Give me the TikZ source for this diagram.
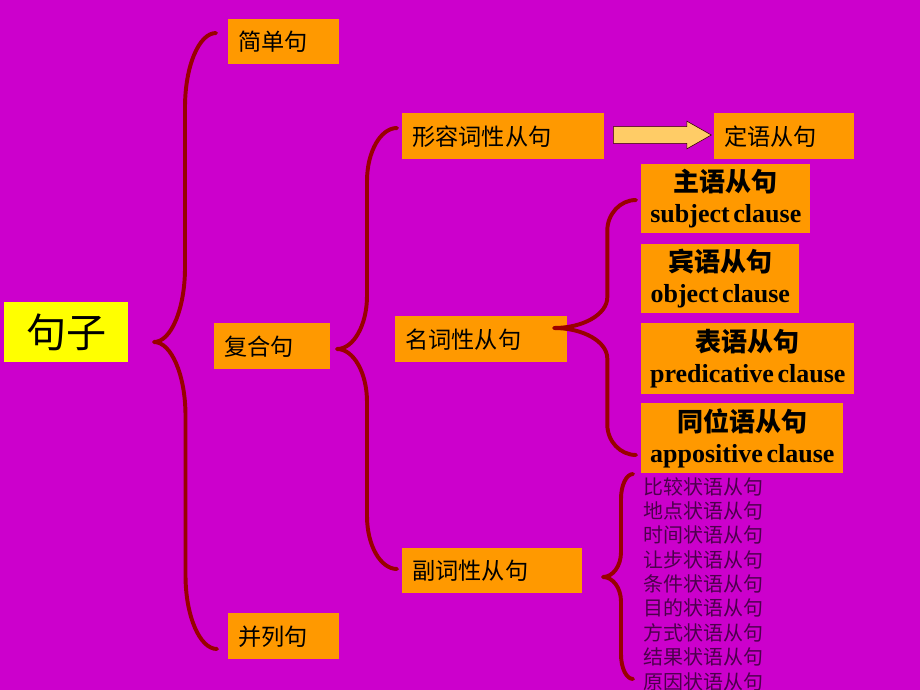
\documentclass[tikz,border=0pt]{standalone}
\usepackage{fontspec}
\setmainfont{Liberation Serif}
\newfontfamily\cjk{Noto Sans CJK SC}
\usepackage{tikz}
\usepackage{xcolor}
\usetikzlibrary{shapes, shapes.arrows, calc, positioning}
\definecolor{slidemagenta}{rgb}{0.8, 0, 0.8}
\definecolor{boxorange}{rgb}{1, 0.6, 0}
\definecolor{rootyellow}{rgb}{1, 1, 0}
\definecolor{bracered}{rgb}{0.6, 0, 0}
\definecolor{arrowfill}{rgb}{1, 0.8, 0.4}
\definecolor{listpurple}{rgb}{0.3, 0, 0.3}
\newcommand{\wsp}{\hskip0.14em\relax}
\tikzset{
    sbox/.style={fill=boxorange, anchor=north west, inner xsep=0.25cm, inner ysep=0pt, align=left,
        font=\cjk\fontsize{16.5}{20}\selectfont},
    bbox/.style={fill=boxorange, anchor=north west, inner xsep=0.1cm, inner ysep=0pt, align=center,
        font=\bfseries\fontsize{18.5}{22}\selectfont},
    brace line/.style={draw=bracered, line width=2.8pt, line cap=round, line join=round},
    half brace/.style={to path={let \p1=(\tikztostart), \p2=(\tikztotarget),
        \n1={\x1+#1*(\x2-\x1)}, \n2={0.24*(\y2-\y1)} in
        .. controls ({\x1+0.55*(\n1-\x1)},{\y1}) and ({\n1},{\y1+0.45*(\n2)}) .. ({\n1},{\y1+(\n2)})
        -- ({\n1},{\y2-(\n2)})
        .. controls ({\n1},{\y2-0.45*(\n2)}) and ({\x2+0.55*(\n1-\x2)},{\y2}) .. (\tikztotarget)}},
    half brace/.default=0.5,
    advtext/.style={anchor=west, inner sep=0pt, text=listpurple, font=\cjk\fontsize{14.2}{17}\selectfont}
}

\begin{document}
\begin{tikzpicture}[x=0.025cm, y=-0.025cm]
        \fill[slidemagenta] (0,0) rectangle (920,690);
        \clip (0,0) rectangle (920,690);

        % left part
        \node[fill=rootyellow, anchor=north west, minimum width=3.1cm, minimum height=1.5cm, inner sep=0pt,
            font=\cjk\fontsize{28.5}{34}\selectfont] (root) at (4,302) {句子};
        \node[sbox, text width=2.275cm, minimum height=1.125cm] (simple) at (228,19) {简单句};
        \node[sbox, text width=2.4cm, minimum height=1.15cm] (compound) at (214,323) {复合句};
        \node[sbox, text width=2.275cm, minimum height=1.15cm] (parallel) at (228,613) {并列句};

        \coordinate (top1) at (216,33);
        \coordinate (tip1) at (154,342);
        \coordinate (bot1) at (217,649);
        \draw[brace line] (top1) to[half brace] (tip1) to[half brace] (bot1);

        % clauses
        \node[sbox, text width=4.55cm, minimum height=1.15cm] (adj) at (402,113) {形容词性从句};
        \node[sbox, text width=3.8cm, minimum height=1.15cm] (noun) at (395,316) {名词性从句};
        \node[sbox, text width=4cm, minimum height=1.125cm] (adv) at (402,548) {副词性从句};

        \coordinate (top2) at (397,128);
        \coordinate (tip2) at (337,349);
        \coordinate (bot2) at (397,569);
        \draw[brace line] (top2) to[half brace] (tip2) to[half brace] (bot2);

        % attributive
        \node[sbox, text width=3cm, minimum height=1.15cm] (attr) at (714,113) {定语从句};
        \node[single arrow, draw=black!80!red, fill=arrowfill, thin, anchor=tail, inner xsep=0pt, inner ysep=0.2cm,
            minimum height=2.45cm, single arrow head extend=0.1375cm, single arrow tip angle=59] (arr) at (613,135) {};

        % nominal
        \node[bbox, text width=4.025cm, minimum height=1.725cm] (subj) at (641,164) {{\cjk 主语从句}\\subject\wsp clause};
        \node[bbox, text width=3.75cm, minimum height=1.725cm] (obj) at (641,244) {{\cjk 宾语从句}\\object\wsp clause};
        \node[bbox, text width=5.125cm, minimum height=1.775cm] (pred) at (641,323) {{\cjk 表语从句}\\predicative\wsp clause};
        \node[bbox, text width=4.85cm, minimum height=1.75cm] (appos) at (641,403) {{\cjk 同位语从句}\\appositive\wsp clause};

        \coordinate (top3) at (636,200);
        \coordinate (tip3) at (554,328);
        \coordinate (bot3) at (636,455);
        \draw[brace line] (top3) to[half brace=0.35] (tip3) to[half brace=0.65] (bot3);

        % adverbial
        \node[advtext] (adv1) at (643,487) {比较状语从句};
        \node[advtext] (adv2) at (643,511) {地点状语从句};
        \node[advtext] (adv3) at (643,535) {时间状语从句};
        \node[advtext] (adv4) at (643,560) {让步状语从句};
        \node[advtext] (adv5) at (643,584) {条件状语从句};
        \node[advtext] (adv6) at (643,608) {目的状语从句};
        \node[advtext] (adv7) at (643,633) {方式状语从句};
        \node[advtext] (adv8) at (643,657) {结果状语从句};
        \node[advtext] (adv9) at (643,682) {原因状语从句};

        \coordinate (top4) at (633,474);
        \coordinate (tip4) at (603,577);
        \coordinate (bot4) at (633,679);
        \draw[brace line] (top4) to[half brace=0.4] (tip4) to[half brace=0.6] (bot4);
\end{tikzpicture}
\end{document}
